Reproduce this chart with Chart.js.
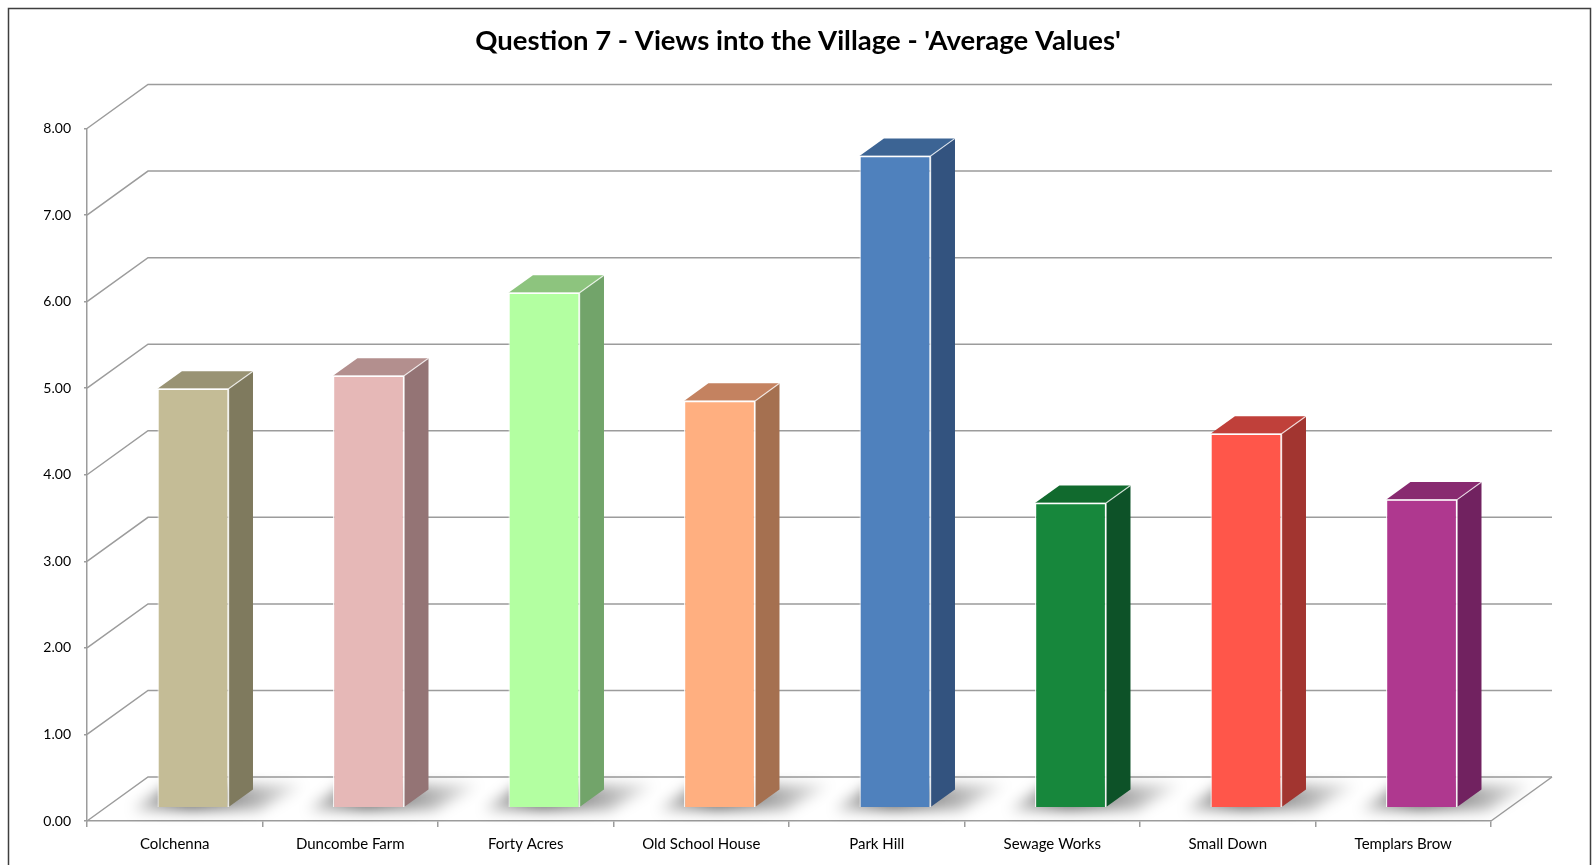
<!DOCTYPE html>
<html>
<head>
<meta charset="utf-8">
<title>Question 7 - Views into the Village</title>
<script src="https://cdn.jsdelivr.net/npm/chart.js@4.4.1/dist/chart.umd.min.js"></script>
<style>
  html, body { margin: 0; padding: 0; background: #fff; }
  #wrap { position: relative; width: 1596px; height: 865px; }
</style>
</head>
<body>
<div id="wrap"><canvas id="chart" width="1596" height="865"></canvas></div>
<script>
// ── Data ─────────────────────────────────────────────────────────────
const categories = ['Colchenna', 'Duncombe Farm', 'Forty Acres', 'Old School House',
                    'Park Hill', 'Sewage Works', 'Small Down', 'Templars Brow'];
const averages   = [4.84, 4.99, 5.95, 4.70, 7.53, 3.52, 4.32, 3.56];
const yTicks     = [0, 1, 2, 3, 4, 5, 6, 7, 8];

// face colours: front / side / top
const frontColors = ['#C4BC96', '#E6B8B7', '#B3FFA1', '#FFAF80', '#4F81BD', '#17873C', '#FF564A', '#AF388F'];
const sideColors  = ['#7F7A5E', '#947475', '#72A46A', '#A57050', '#33537F', '#0D5228', '#A23530', '#712260'];
const topColors   = ['#999374', '#B38F8E', '#8DC47E', '#C48260', '#3C6494', '#116A2E', '#C0403A', '#882A70'];

// ── 3D look: depth of the floor, and where the bars sit in it ─────────
const DEPTH_X = 61, DEPTH_Y = -44;       // full depth of the floor
const BAR_OFF = 0.3, BAR_DEPTH = 0.4;    // bars start 30% in, 40% deep
const GRID = '#9c9c9c';

const box3d = {
  id: 'box3d',
  beforeDraw(chart) {
    const { ctx } = chart;
    ctx.save();
    ctx.strokeStyle = '#3f3f3f';
    ctx.lineWidth = 1.5;
    ctx.strokeRect(8.5, 8.5, 1582, 900);
    ctx.restore();
  },
  beforeDatasetsDraw(chart) {
    const { ctx, chartArea: a } = chart;
    const y = chart.scales.y;
    // side wall + back wall gridlines
    ctx.save();
    ctx.strokeStyle = GRID;
    ctx.lineWidth = 1.5;
    yTicks.forEach(v => {
      const py = y.getPixelForValue(v);
      ctx.beginPath();
      ctx.moveTo(a.left, py);
      ctx.lineTo(a.left + DEPTH_X, py + DEPTH_Y);
      ctx.lineTo(a.right + DEPTH_X, py + DEPTH_Y);
      ctx.stroke();
    });
    // right edge of the floor
    const py0 = y.getPixelForValue(0);
    ctx.beginPath();
    ctx.moveTo(a.right, py0);
    ctx.lineTo(a.right + DEPTH_X, py0 + DEPTH_Y);
    ctx.stroke();
    ctx.restore();

    // soft shadows on the floor
    const meta = chart.getDatasetMeta(0);
    const ox = DEPTH_X * BAR_OFF, oy = DEPTH_Y * BAR_OFF;
    ctx.save();
    ctx.filter = 'blur(7px)';
    meta.data.forEach(bar => {
      const l = bar.x - bar.width / 2 + ox, r = bar.x + bar.width / 2 + ox;
      const b = bar.base + oy;
      const g = ctx.createLinearGradient(l - 30, 0, r + 80, 0);
      g.addColorStop(0, 'rgba(0,0,0,0.15)');
      g.addColorStop(0.35, 'rgba(0,0,0,0.6)');
      g.addColorStop(1, 'rgba(0,0,0,0.05)');
      ctx.fillStyle = g;
      ctx.beginPath();
      ctx.moveTo(l - 25, b + 3);
      ctx.lineTo(r + 30, b + 3);
      ctx.lineTo(r + 75, b - 22);
      ctx.lineTo(l + 10, b - 22);
      ctx.closePath();
      ctx.fill();
    });
    ctx.restore();

    // front faces are drawn by Chart.js, pushed back into the floor
    ctx.save();
    ctx.translate(ox, oy);
  },
  afterDatasetsDraw(chart) {
    const { ctx } = chart;
    ctx.restore();
    const meta = chart.getDatasetMeta(0);
    const ox = DEPTH_X * BAR_OFF, oy = DEPTH_Y * BAR_OFF;
    const bx = DEPTH_X * BAR_DEPTH, by = DEPTH_Y * BAR_DEPTH;
    ctx.save();
    ctx.lineWidth = 1.2;
    ctx.strokeStyle = 'rgba(255,255,255,0.75)';
    ctx.lineJoin = 'round';
    meta.data.forEach((bar, i) => {
      const l = bar.x - bar.width / 2 + ox, r = bar.x + bar.width / 2 + ox;
      const t = bar.y + oy, b = bar.base + oy;
      // side
      ctx.fillStyle = sideColors[i];
      ctx.beginPath();
      ctx.moveTo(r, t);
      ctx.lineTo(r + bx, t + by);
      ctx.lineTo(r + bx, b + by);
      ctx.lineTo(r, b);
      ctx.closePath();
      ctx.fill();
      // top
      ctx.fillStyle = topColors[i];
      ctx.beginPath();
      ctx.moveTo(l, t);
      ctx.lineTo(l + bx, t + by);
      ctx.lineTo(r + bx, t + by);
      ctx.lineTo(r, t);
      ctx.closePath();
      ctx.fill();
      // light edges
      ctx.beginPath();
      ctx.moveTo(r, b);
      ctx.lineTo(r, t);
      ctx.lineTo(r + bx, t + by);
      ctx.moveTo(l, t);
      ctx.lineTo(r, t);
      ctx.stroke();
    });
    ctx.restore();
  }
};

new Chart(document.getElementById('chart'), {
  type: 'bar',
  data: {
    labels: categories,
    datasets: [{
      label: 'Average',
      data: averages,
      backgroundColor: frontColors,
      borderColor: 'rgba(255,255,255,0.8)',
      borderWidth: 1.2,
      categoryPercentage: 1,
      barPercentage: 0.405
    }]
  },
  options: {
    responsive: false,
    animation: false,
    layout: { padding: 0 },
    plugins: {
      legend: { display: false },
      tooltip: { enabled: false },
      title: {
        display: true,
        text: "Question 7 - Views into the Village - 'Average Values'",
        color: '#000',
        font: { family: 'Lato', size: 27.5, weight: 'bold', lineHeight: 1.2 },
        padding: { top: 24.5, bottom: 71 }
      }
    },
    scales: {
      x: {
        offset: true,
        grid: { offset: true, drawOnChartArea: false, drawTicks: true, tickLength: 6, color: GRID, lineWidth: 1.5 },
        border: { display: true, color: GRID, width: 1.5 },
        ticks: { color: '#000', padding: 8, font: { family: 'Lato', size: 15 }, maxRotation: 0 },
        afterFit(s) { s.height = 44; }
      },
      y: {
        min: 0,
        max: 8,
        afterBuildTicks(s) { s.ticks = yTicks.map(v => ({ value: v })); },
        grid: { drawOnChartArea: false, drawTicks: true, tickLength: 3, color: GRID, lineWidth: 1.5 },
        border: { display: true, color: GRID, width: 1.5 },
        ticks: { color: '#000', padding: 13, font: { family: 'Lato', size: 14 }, callback: v => v.toFixed(2) },
        afterFit(s) { s.width = 87; }
      },
      // empty right-hand axis: keeps room for the back wall's depth
      yRight: {
        position: 'right',
        min: 0,
        max: 8,
        grid: { display: false },
        border: { display: false },
        ticks: { display: false },
        afterFit(s) { s.width = 105; }
      }
    }
  },
  plugins: [box3d]
});
</script>
</body>
</html>
